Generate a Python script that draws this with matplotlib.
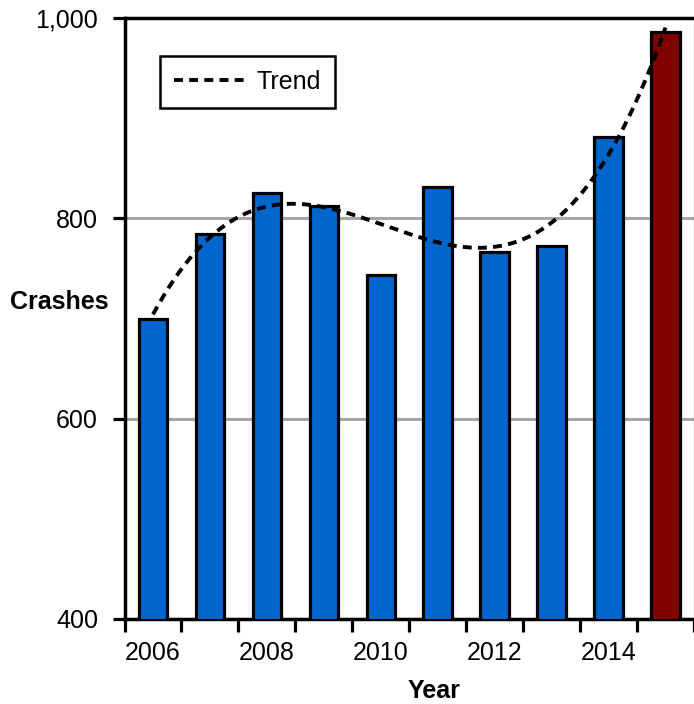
import numpy as np
import matplotlib
matplotlib.use("Agg")
import matplotlib.pyplot as plt

# Crash counts per year.
years = [2006, 2007, 2008, 2009, 2010, 2011, 2012, 2013, 2014, 2015]
crashes = [700, 784, 825, 812, 743, 831, 766, 772, 881, 986]
bar_colors = ["#0066CC"] * 9 + ["#800000"]
year_labels = ["2006", "2008", "2010", "2012", "2014"]
y_ticks = [400, 600, 800, 1000]

plt.rcParams["font.family"] = ["Liberation Sans", "DejaVu Sans"]
plt.rcParams["font.size"] = 18

fig = plt.figure(figsize=(6.94, 7.04), dpi=100)
ax = fig.add_axes([124.5 / 694, 1 - 619 / 704, (694 - 124.5) / 694, (619 - 18) / 704])

x = np.arange(len(years))
ax.bar(x, crashes, width=0.5, color=bar_colors, edgecolor="black", linewidth=2.3, zorder=3)

# Excel-style polynomial trendline fitted to the bars.
coef = np.polyfit(x, crashes, 3)
xs = np.linspace(x[0], x[-1], 200)
ax.plot(xs, np.polyval(coef, xs), color="black", linewidth=2.8,
        linestyle=(0, (2.3, 1.6)), label="Trend", zorder=4)

ax.set_xlim(-0.5, len(years) - 0.5)
ax.set_ylim(400, 1000)
ax.set_yticks(y_ticks)
ax.set_yticklabels([f"{v:,}" for v in y_ticks])
ax.yaxis.grid(True, color="#A6A6A6", linewidth=2.2, zorder=0)
ax.set_axisbelow(True)

# ticks on category boundaries, labels on every other category
ax.set_xticks(np.arange(-0.5, len(years) + 0.5, 1))
ax.set_xticklabels([])
ax.set_xticks(x[::2], minor=True)
ax.set_xticklabels(year_labels, minor=True)
ax.tick_params(axis="x", which="major", length=9, width=2.3, direction="out")
ax.tick_params(axis="x", which="minor", length=0, pad=16)
ax.tick_params(axis="y", length=9, width=2.3, direction="out", pad=10)

for side in ["left", "bottom", "top"]:
    ax.spines[side].set_linewidth(2.5)
ax.spines["right"].set_linewidth(0.8)

fig.text(10 / 694, 1 - 302 / 704, "Crashes", fontweight="bold", ha="left", va="center")
fig.text(434 / 694, 1 - 691 / 704, "Year", fontweight="bold", ha="center", va="center")

leg = ax.legend(loc="upper left", bbox_to_anchor=(0.0623, 0.937), borderaxespad=0,
                fancybox=False, edgecolor="black", framealpha=1, borderpad=0.57,
                handlelength=2.8, handletextpad=0.5)
leg.get_frame().set_linewidth(1.8)

fig.savefig("out.png", dpi=100)
